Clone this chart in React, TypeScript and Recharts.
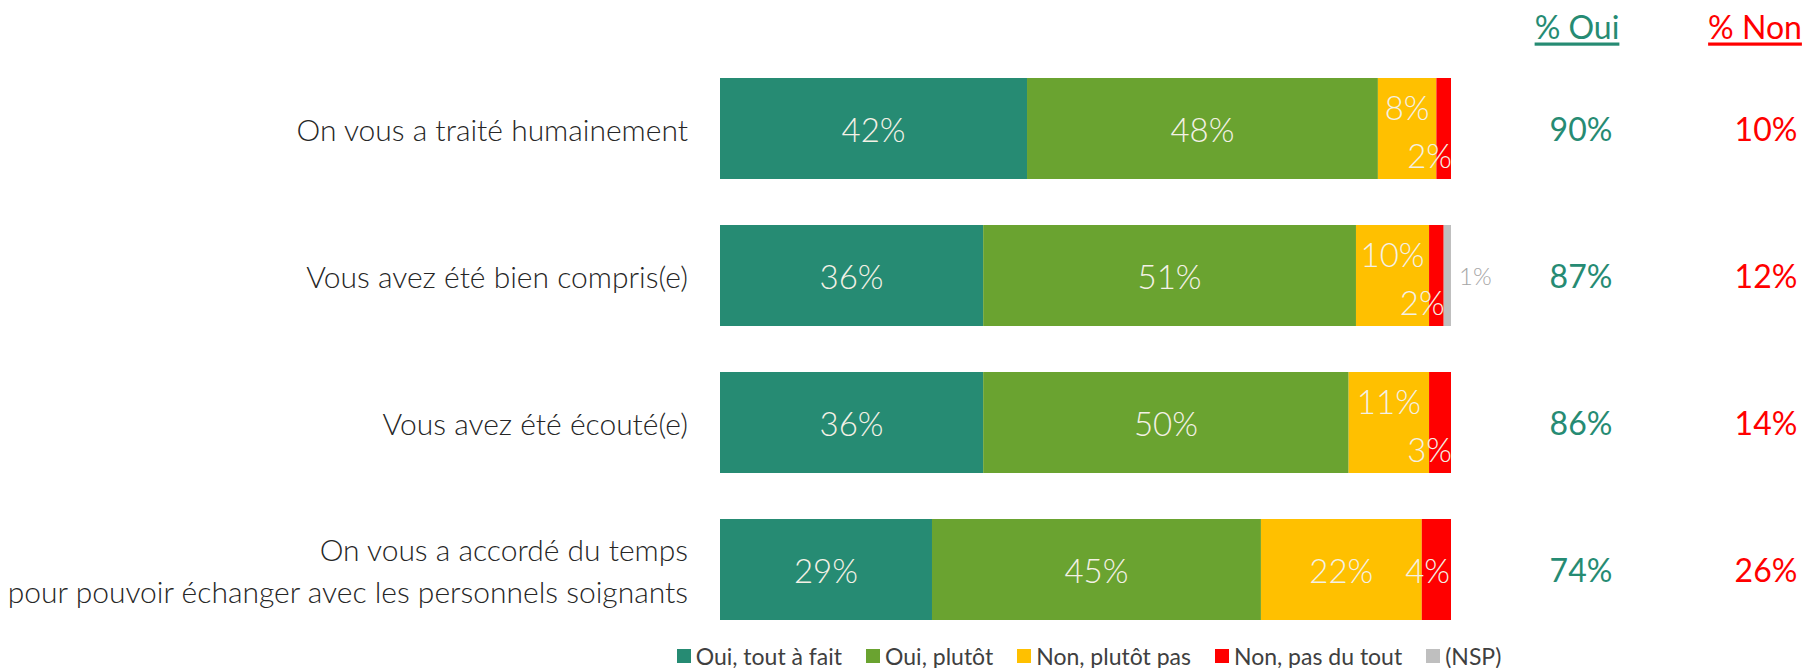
import { BarChart, Bar, XAxis, YAxis, LabelList } from 'recharts';

const categories = [
  'On vous a traité humainement',
  'Vous avez été bien compris(e)',
  'Vous avez été écouté(e)',
  'On vous a accordé du temps\npour pouvoir échanger avec les personnels soignants',
];
const toutAFait = [42, 36, 36, 29];
const plutot = [48, 51, 50, 45];
const plutotPas = [8, 10, 11, 22];
const pasDuTout = [2, 2, 3, 4];
const nsp = [0, 1, 0, 0];
const totalOui = [90, 87, 86, 74];
const totalNon = [10, 12, 14, 26];

const series = [
  { key: 'toutAFait', name: 'Oui, tout à fait', color: '#268B73' },
  { key: 'plutot', name: 'Oui, plutôt', color: '#6AA330' },
  { key: 'plutotPas', name: 'Non, plutôt pas', color: '#FFC000' },
  { key: 'pasDuTout', name: 'Non, pas du tout', color: '#FF0000' },
  { key: 'nsp', name: '(NSP)', color: '#BFBFBF' },
];

const data = categories.map((name, i) => ({
  name,
  toutAFait: toutAFait[i],
  plutot: plutot[i],
  plutotPas: plutotPas[i],
  pasDuTout: pasDuTout[i],
  nsp: nsp[i],
}));

const FONT = 'Lato, "Noto Sans", sans-serif';
const LABEL_FILL = '#F4F1E6';
const OUI = '#268B73';
const NON = '#FF0000';

const centerLabel = (props: any) => {
  const { x, y, width, height, value } = props;
  if (!value) return null;
  return (
    <text x={x + width / 2} y={y + height / 2} textAnchor="middle" dominantBaseline="central"
      fill={LABEL_FILL} fontFamily={FONT} fontWeight={300} fontSize={33}>
      {value}%
    </text>
  );
};

// small "plutôt pas" values sit in the upper half so they don't clash with the red label
const plutotPasLabel = (props: any) => {
  const { x, y, width, height, value } = props;
  if (!value) return null;
  const small = value <= 12;
  return (
    <text x={x + width / 2} y={y + height / 2 - (small ? 22 : 0)} textAnchor="middle" dominantBaseline="central"
      fill={LABEL_FILL} fontFamily={FONT} fontWeight={300} fontSize={33}>
      {value}%
    </text>
  );
};

const pasDuToutLabel = (props: any) => {
  const { x, y, width, height, value, index } = props;
  if (!value) return null;
  const staggered = plutotPas[index] <= 12;
  return (
    <text x={x + width + (staggered ? 1 : -1)} y={y + height / 2 + (staggered ? 26 : 0)} textAnchor="end"
      dominantBaseline="central" fill={LABEL_FILL} fontFamily={FONT} fontWeight={300} fontSize={33}>
      {value}%
    </text>
  );
};

const nspLabel = (props: any) => {
  const { x, y, width, height, value } = props;
  if (!value) return null;
  return (
    <text x={x + width + 8} y={y + height / 2} textAnchor="start" dominantBaseline="central"
      fill="#A6A6A6" fontFamily={FONT} fontWeight={300} fontSize={24}>
      {value}%
    </text>
  );
};

const labelRenderers: Record<string, (p: any) => any> = {
  toutAFait: centerLabel,
  plutot: centerLabel,
  plutotPas: plutotPasLabel,
  pasDuTout: pasDuToutLabel,
  nsp: nspLabel,
};

const CategoryTick = (props: any) => {
  const { x, y, payload } = props;
  const lines = String(payload.value).split('\n');
  const lh = 42;
  const start = y - ((lines.length - 1) * lh) / 2;
  return (
    <text x={x} textAnchor="end" fill="#262626" fontFamily={FONT} fontWeight={300} fontSize={30}>
      {lines.map((l, i) => (
        <tspan key={i} x={x} y={start + i * lh} dominantBaseline="central">{l}</tspan>
      ))}
    </text>
  );
};

const TotalsTick = (props: any) => {
  const { x, y, payload } = props;
  const i = categories.indexOf(payload.value);
  return (
    <g>
      <text x={x + 130} y={y} textAnchor="middle" dominantBaseline="central" fill={OUI} fontFamily={FONT} fontSize={32}>
        {totalOui[i]}%
      </text>
      <text x={x + 315} y={y} textAnchor="middle" dominantBaseline="central" fill={NON} fontFamily={FONT} fontSize={32}>
        {totalNon[i]}%
      </text>
    </g>
  );
};

const Headers = (props: any) => {
  const { viewBox } = props;
  const x = viewBox.x;
  const y = viewBox.y - 29;
  return (
    <g>
      <text x={x + 126} y={y} textAnchor="middle" dominantBaseline="central" fill={OUI} fontFamily={FONT}
        fontSize={32} textDecoration="underline">% Oui</text>
      <text x={x + 304} y={y} textAnchor="middle" dominantBaseline="central" fill={NON} fontFamily={FONT}
        fontSize={32} textDecoration="underline">% Non</text>
    </g>
  );
};

export default function App() {
  return (
    <div style={{ position: 'absolute', left: 0, top: 0, width: 1820, height: 668, background: '#fff' }}>
      <BarChart width={1820} height={668} data={data} layout="vertical"
        margin={{ top: 55, right: 0, bottom: 25, left: 0 }}>
        <XAxis type="number" domain={[0, 100]} hide />
        <YAxis yAxisId="left" type="category" dataKey="name" width={720} axisLine={false} tickLine={false}
          tickSize={0} tickMargin={32} tick={<CategoryTick />} interval={0} />
        <YAxis yAxisId="right" orientation="right" type="category" dataKey="name" width={369} axisLine={false}
          tickLine={false} tickSize={0} tickMargin={0} tick={<TotalsTick />} interval={0}
          label={{ content: <Headers /> }} />
        {series.map((s) => (
          <Bar key={s.key} dataKey={s.key} name={s.name} stackId="a" yAxisId="left" fill={s.color}
            barSize={101} isAnimationActive={false}>
            <LabelList dataKey={s.key} content={labelRenderers[s.key]} />
          </Bar>
        ))}
      </BarChart>
      <div style={{ position: 'absolute', top: 642, left: 589, width: 1000, height: 28, display: 'flex',
        justifyContent: 'center', alignItems: 'center', gap: 24, fontFamily: FONT, fontSize: 23, color: '#404040' }}>
        {series.map((s) => (
          <div key={s.key} style={{ display: 'flex', alignItems: 'center', gap: 5 }}>
            <span style={{ display: 'inline-block', width: 14, height: 14, background: s.color }} />
            <span>{s.name}</span>
          </div>
        ))}
      </div>
    </div>
  );
}
